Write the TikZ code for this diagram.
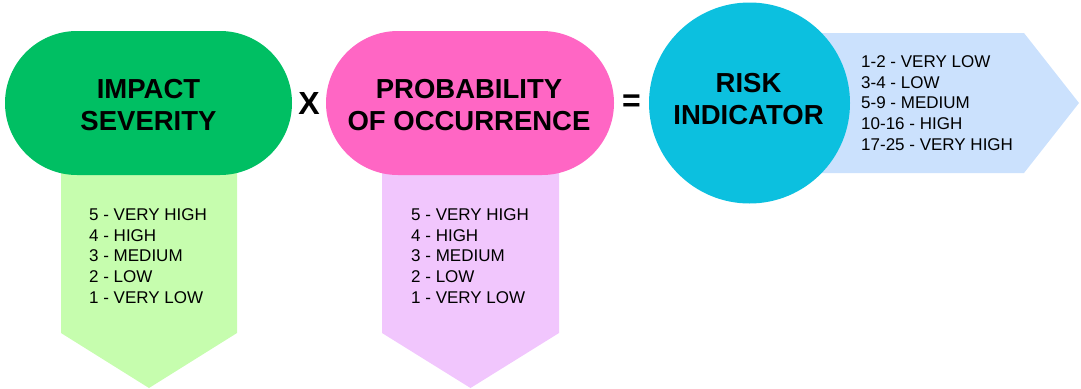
\documentclass[tikz,border=0pt]{standalone}
\usepackage{fontspec}
\setmainfont{Liberation Sans}
\definecolor{cgreen}{HTML}{00BF63}
\definecolor{clgreen}{HTML}{C6FDAE}
\definecolor{cpink}{HTML}{FF66C4}
\definecolor{clpink}{HTML}{F1C6FD}
\definecolor{ccyan}{HTML}{0CC0DF}
\definecolor{clblue}{HTML}{CBE1FD}
\tikzset{
  stadium/.style={rounded corners=72pt, minimum width=#1, minimum height=144pt, inner sep=0pt, align=center, font=\fontsize{27.5}{32}\selectfont\bfseries},
  titletext/.style={inner sep=0pt, align=center, font=\fontsize{27.5}{32}\selectfont\bfseries},
  listtext/.style={anchor=base west, align=left, inner sep=0pt, font=\fontsize{17}{20.6}\selectfont},
  opsym/.style={inner sep=0pt, font=\fontsize{32}{32}\selectfont\bfseries}
}
\begin{document}
\begin{tikzpicture}[x=1pt,y=-1pt]
\useasboundingbox (0,0) rectangle (1081,388);
% arrows (behind)
\fill[clgreen] (61,160) -- (237,160) -- (237,333) -- (149,388) -- (61,333) -- cycle;
\fill[clpink] (382,160) -- (559,160) -- (559,333) -- (470.5,388) -- (382,333) -- cycle;
\fill[clblue] (760,33) -- (1024,33) -- (1079,103) -- (1024,173) -- (760,173) -- cycle;
% main shapes
\node[stadium=287pt, fill=cgreen] (impact) at (148.5,103) {};
\node[titletext] (impacttext) at (148.5,105) {IMPACT\\SEVERITY};
\node[stadium=288pt, fill=cpink] (prob) at (470,103) {};
\node[titletext] (probtext) at (469,105) {PROBABILITY\\OF OCCURRENCE};
\node[circle, fill=ccyan, minimum size=201pt, inner sep=0pt] (risk) at (749.5,103) {};
\node[titletext] (risktext) at (748.5,99) {RISK\\INDICATOR};
% operators
\node[opsym] (times) at (309,103.5) {X};
\node[opsym] (equals) at (631.5,103) {=};
% lists (anchored at the baseline of the last line)
\node[listtext] (l1) at (89,303) {5 - VERY HIGH\\4 - HIGH\\3 - MEDIUM\\2 - LOW\\1 - VERY LOW};
\node[listtext] (l2) at (411,303) {5 - VERY HIGH\\4 - HIGH\\3 - MEDIUM\\2 - LOW\\1 - VERY LOW};
\node[listtext] (l3) at (861,150) {1-2 - VERY LOW\\3-4 - LOW\\5-9 - MEDIUM\\10-16 - HIGH\\17-25 - VERY HIGH};
\end{tikzpicture}
\end{document}
